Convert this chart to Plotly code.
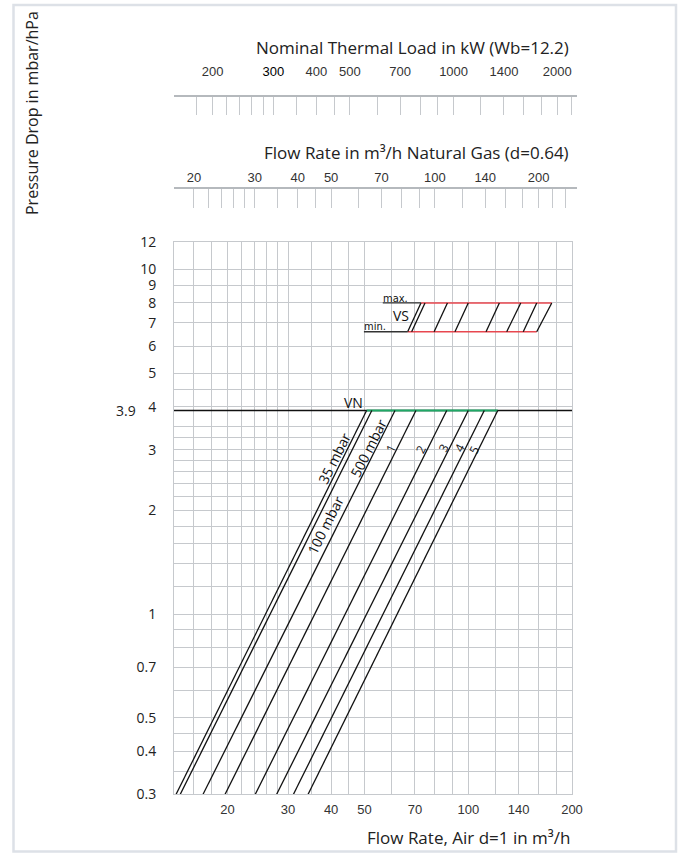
import math
import plotly.graph_objects as go

W, H = 680, 853

# ---------------- data ----------------
air_grid = [14, 16, 18, 20, 22, 24, 26, 28, 30, 35, 40, 45, 50, 60, 70, 80, 90, 100, 120, 140, 160, 180, 200]
air_labels = [20, 30, 40, 50, 70, 100, 140, 200]

p_grid = [0.3, 0.35, 0.4, 0.45, 0.5, 0.6, 0.7, 0.8, 0.9, 1, 1.2, 1.4, 1.6, 1.8, 2, 2.2, 2.4, 2.6, 2.8,
          3, 3.25, 3.5, 4, 4.5, 5, 6, 7, 8, 9, 10, 12]
p_labels = [0.3, 0.4, 0.5, 0.7, 1, 2, 3, 4, 5, 6, 7, 8, 9, 10, 12]

kw_ticks = [180, 200, 220, 240, 260, 280, 300, 350, 400, 450, 500, 600, 700, 800, 900, 1000,
            1200, 1400, 1600, 1800, 2000, 2200]
kw_labels = [200, 300, 400, 500, 700, 1000, 1400, 2000]

gas_ticks = [20, 22, 24, 26, 28, 30, 35, 40, 45, 50, 60, 70, 80, 90, 100, 120, 140, 160, 180, 200, 220, 240]
gas_labels = [20, 30, 40, 50, 70, 100, 140, 200]

# pressure levels (mbar)
p_low = 0.3
p_vn = 3.9
p_vs_min = 6.6
p_vs_max = 8.0

# air flow (m3/h) of each characteristic line at the given pressures
vn_flow_low = [14.2, 14.6, 17.0, 19.7, 24.1, 27.8, 31.1, 34.3]
vn_flow_high = [50.7, 52.5, 61.3, 70.5, 86.6, 100.0, 111.3, 121.8]
vs_flow_min = [66.7, 68.5, 79.6, 91.5, 112.6, 129.3, 144.4, 158.0]
vs_flow_max = [72.9, 74.9, 87.0, 100.0, 123.1, 142.0, 158.0, 174.7]

line_names = ["35 mbar", "100 mbar", "500 mbar", "1", "2", "3", "4", "5"]
label_x = [40.8, 38.4, 51.2, 59.5, 72.7, 84.5, 94.0, 103.9]
label_y = [2.83, 1.81, 3.03, 3.03, 3.01, 3.03, 3.03, 3.01]


# ---------------- helpers ----------------
def fx(px):
    return px / W


def fy(py):
    return 1 - py / H


GRID = "#c6c9cd"
BLACK = "#111111"
RED = "#e8474f"
GREEN = "#1fa866"
TXT = "#222222"

main_xdom = [fx(174), fx(572)]
main_ydom = [fy(794.3), fy(242.3)]
ppd = (572 - 174) / (math.log10(200) - math.log10(14))  # px per decade

top_xdom = [fx(174), fx(577)]
top_span = (577 - 174) / ppd
kw_start = math.log10(200) - (212.7 - 174) / ppd
gas_start = math.log10(14 * 1.25)

fig = go.Figure()

# 3.9 mbar reference line
fig.add_trace(go.Scatter(x=[air_grid[0], air_grid[-1]], y=[p_vn, p_vn], mode="lines",
                         line=dict(color=BLACK, width=1.3), hoverinfo="skip", showlegend=False))
# green VN segment
fig.add_trace(go.Scatter(x=[vn_flow_high[0], vn_flow_high[-1]], y=[p_vn, p_vn], mode="lines",
                         line=dict(color=GREEN, width=2), hoverinfo="skip", showlegend=False))
# VN characteristic lines
for lo, hi in zip(vn_flow_low, vn_flow_high):
    fig.add_trace(go.Scatter(x=[lo, hi], y=[p_low, p_vn], mode="lines",
                             line=dict(color=BLACK, width=1.3), hoverinfo="skip", showlegend=False))
# VS band
fig.add_trace(go.Scatter(x=[vs_flow_min[0], vs_flow_min[-1]], y=[p_vs_min, p_vs_min], mode="lines",
                         line=dict(color=RED, width=1.6), hoverinfo="skip", showlegend=False))
fig.add_trace(go.Scatter(x=[vs_flow_max[0], vs_flow_max[-1]], y=[p_vs_max, p_vs_max], mode="lines",
                         line=dict(color=RED, width=1.6), hoverinfo="skip", showlegend=False))
for a, b in zip(vs_flow_min, vs_flow_max):
    fig.add_trace(go.Scatter(x=[a, b], y=[p_vs_min, p_vs_max], mode="lines",
                             line=dict(color=BLACK, width=1.3), hoverinfo="skip", showlegend=False))
# min./max. leaders
min_leader_x = [49.8, vs_flow_min[0]]
max_leader_x = [56.5, vs_flow_max[0]]
fig.add_trace(go.Scatter(x=min_leader_x, y=[p_vs_min, p_vs_min], mode="lines",
                         line=dict(color="#333333", width=1.3), hoverinfo="skip", showlegend=False))
fig.add_trace(go.Scatter(x=max_leader_x, y=[p_vs_max, p_vs_max], mode="lines",
                         line=dict(color="#333333", width=1.3), hoverinfo="skip", showlegend=False))

# empty traces to create the top scale subplots
fig.add_trace(go.Scatter(x=[], y=[], xaxis="x2", yaxis="y2", showlegend=False, hoverinfo="skip"))
fig.add_trace(go.Scatter(x=[], y=[], xaxis="x3", yaxis="y3", showlegend=False, hoverinfo="skip"))


def lbl(vals, labels, fmt=lambda v: f"{v:g}"):
    return [fmt(v) if v in labels else "" for v in vals]


def kw_fmt(v):
    if v == 300:
        return "<span style='color:#000'>300</span>"
    return f"{v:g}"


fig.update_layout(
    template="none",
    width=W, height=H,
    margin=dict(l=0, r=0, t=0, b=0, pad=0, autoexpand=False),
    paper_bgcolor="white", plot_bgcolor="white",
    showlegend=False,
    xaxis=dict(type="log", domain=main_xdom, range=[math.log10(14), math.log10(200)],
               tickmode="array", tickvals=air_grid, ticktext=lbl(air_grid, air_labels),
               showgrid=True, gridcolor=GRID, gridwidth=1, zeroline=False, automargin=False,
               showline=True, linecolor=GRID, linewidth=1, mirror=True, ticks="",
               tickfont=dict(family="Liberation Sans", size=13, color="#333333"),
               ticklabelstandoff=3, anchor="y"),
    yaxis=dict(type="log", domain=main_ydom, range=[math.log10(0.3), math.log10(12)],
               tickmode="array", tickvals=p_grid, ticktext=lbl(p_grid, p_labels),
               showgrid=True, gridcolor=GRID, gridwidth=1, zeroline=False, automargin=False,
               showline=True, linecolor=GRID, linewidth=1, mirror=True, ticks="",
               tickfont=dict(family="Open Sans", size=14, color=TXT),
               ticklabelstandoff=14, anchor="x"),
    xaxis2=dict(type="log", domain=top_xdom, range=[kw_start, kw_start + top_span],
                tickmode="array", tickvals=kw_ticks, ticktext=lbl(kw_ticks, kw_labels, kw_fmt),
                side="top", anchor="y2", showgrid=True, gridcolor=GRID, gridwidth=1, automargin=False,
                showline=True, linecolor="#b5b9bd", linewidth=1.5, ticks="", zeroline=False,
                tickfont=dict(family="Liberation Sans", size=13, color="#333333"),
                ticklabelstandoff=14),
    yaxis2=dict(domain=[fy(115), fy(96.7)], range=[0, 1], visible=False, anchor="x2", automargin=False),
    xaxis3=dict(type="log", domain=top_xdom, range=[gas_start, gas_start + top_span],
                tickmode="array", tickvals=gas_ticks, ticktext=lbl(gas_ticks, gas_labels),
                side="top", anchor="y3", showgrid=True, gridcolor=GRID, gridwidth=1, automargin=False,
                showline=True, linecolor="#b5b9bd", linewidth=1.5, ticks="", zeroline=False,
                tickfont=dict(family="Liberation Sans", size=13, color="#333333"),
                ticklabelstandoff=0),
    yaxis3=dict(domain=[fy(208), fy(189.3)], range=[0, 1], visible=False, anchor="x3", automargin=False),
)

ann = []
TF = "Open Sans"
ann.append(dict(text="Nominal Thermal Load in kW (Wb=12.2)", x=fx(571), y=fy(47), xref="paper", yref="paper",
                xanchor="right", yanchor="middle", showarrow=False, font=dict(family=TF, size=17, color=TXT)))
ann.append(dict(text="Flow Rate in m³/h Natural Gas (d=0.64)", x=fx(571), y=fy(152), xref="paper", yref="paper",
                xanchor="right", yanchor="middle", showarrow=False, font=dict(family=TF, size=17, color=TXT)))
ann.append(dict(text="Flow Rate, Air d=1 in m³/h", x=fx(572), y=fy(837), xref="paper", yref="paper",
                xanchor="right", yanchor="middle", showarrow=False, font=dict(family=TF, size=17, color=TXT)))
ann.append(dict(text="Pressure Drop in mbar/hPa", x=fx(32), y=fy(113), xref="paper", yref="paper",
                xanchor="center", yanchor="middle", textangle=-90, showarrow=False,
                font=dict(family=TF, size=16, color=TXT)))
ann.append(dict(text="3.9", x=fx(138), y=math.log10(p_vn), xref="paper", yref="y", xanchor="right",
                yanchor="middle", showarrow=False, font=dict(family=TF, size=14, color=TXT)))
ann.append(dict(text="VN", x=math.log10(46.3), y=math.log10(4.12), xref="x", yref="y", showarrow=False,
                font=dict(family=TF, size=14, color=BLACK)))
ann.append(dict(text="VS", x=math.log10(63.8), y=math.log10(7.38), xref="x", yref="y", showarrow=False,
                font=dict(family=TF, size=14, color=BLACK)))
ann.append(dict(text="max.", x=math.log10(61.3), y=math.log10(8.25), xref="x", yref="y", showarrow=False,
                font=dict(family="DejaVu Sans Condensed", size=11, color=BLACK)))
ann.append(dict(text="min.", x=math.log10(53.8), y=math.log10(6.85), xref="x", yref="y", showarrow=False,
                font=dict(family="DejaVu Sans Condensed", size=11, color=BLACK)))
angle = -math.degrees(math.atan(2.0))
for name, lx, ly in zip(line_names, label_x, label_y):
    size = 14 if "mbar" in name else 12
    ann.append(dict(text=name, x=math.log10(lx), y=math.log10(ly), xref="x", yref="y", showarrow=False,
                    textangle=angle, font=dict(family=TF, size=size, color=BLACK)))
fig.update_layout(annotations=ann)

# outer frame
fig.add_shape(type="rect", xref="paper", yref="paper", x0=fx(13.5), x1=fx(676), y0=fy(851.5), y1=fy(5),
              line=dict(color="#dde1e7", width=2.5), fillcolor="rgba(0,0,0,0)", layer="above")

fig.write_html(
    "out.html",
    config={"displayModeBar": False},
    post_script="document.body.style.margin='0px';"
                "document.documentElement.style.overflow='hidden';"
                "document.body.style.overflow='hidden';",
)
